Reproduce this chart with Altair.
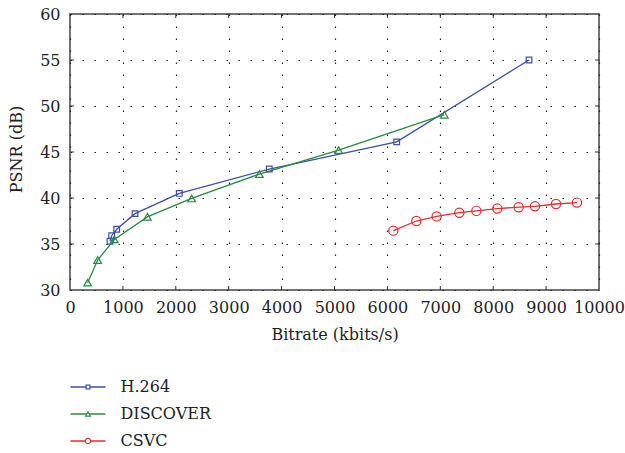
import altair as alt
import pandas as pd

# ---- data ----
series_names = ["H.264", "DISCOVER", "CSVC"]
series_colors = ["#3b50a8", "#2b8a3e", "#ee2b2b"]

h264_x = [756, 788, 883, 1229, 2066, 3767, 6176, 8677]
h264_y = [35.3, 35.9, 36.6, 38.3, 40.5, 43.15, 46.1, 55.0]

discover_x = [334, 523, 838, 1462, 2300, 3580, 5079, 7076]
discover_y = [30.8, 33.25, 35.5, 37.95, 39.95, 42.6, 45.2, 49.05]

csvc_x = [6112, 6547, 6931, 7360, 7681, 8078, 8481, 8790, 9187, 9584]
csvc_y = [36.45, 37.5, 38.0, 38.4, 38.6, 38.85, 39.0, 39.1, 39.35, 39.5]

x_ticks = [0, 1000, 2000, 3000, 4000, 5000, 6000, 7000, 8000, 9000, 10000]
y_ticks = [30, 35, 40, 45, 50, 55, 60]

# ---- tables ----
rows = []
for name, xs, ys in [("H.264", h264_x, h264_y),
                     ("DISCOVER", discover_x, discover_y),
                     ("CSVC", csvc_x, csvc_y)]:
    for i, (xv, yv) in enumerate(zip(xs, ys)):
        rows.append({"series": name, "x": xv, "y": yv, "idx": i})
df = pd.DataFrame(rows)

xt = pd.DataFrame({"x": x_ticks[1:-1]})
yt = pd.DataFrame({"y": y_ticks[1:-1]})
leg = pd.DataFrame({"series": series_names})

W, H = 529, 276
FONT = "DejaVu Serif"
INK = "#222222"

xscale = alt.Scale(domain=[0, 10000], nice=False, zero=False)
yscale = alt.Scale(domain=[30, 60], nice=False, zero=False)
xaxis = alt.Axis(values=x_ticks, title="Bitrate (kbits/s)", format="d",
                 grid=True, ticks=False, domain=False, labelPadding=9,
                 titlePadding=11, labelFlush=False)
yaxis = alt.Axis(values=y_ticks, title="PSNR (dB)", format="d",
                 grid=True, ticks=False, domain=False, labelPadding=10,
                 titleX=-54, titleY=135, titleBaseline="middle")

color = alt.Color("series:N", scale=alt.Scale(domain=series_names, range=series_colors), legend=None)
shape = alt.Shape("series:N", scale=alt.Scale(domain=series_names,
                  range=["square", "triangle-up", "circle"]), legend=None)

X = alt.X("x:Q", scale=xscale, axis=xaxis)
Y = alt.Y("y:Q", scale=yscale, axis=yaxis)

lines = alt.Chart(df).mark_line(strokeWidth=1.3).encode(
    x=X, y=Y, color=color, detail="series:N", order="idx:Q")

points = alt.Chart(df).mark_point(filled=False, strokeWidth=1.2, opacity=1).encode(
    x=X, y=Y, color=color, shape=shape,
    size=alt.Size("series:N", scale=alt.Scale(domain=series_names, range=[32, 85, 45]), legend=None))

tick_style = dict(color="#333333", strokeWidth=1)
bot_ticks = alt.Chart(xt).mark_rule(**tick_style).encode(x=X, y=alt.value(H), y2=alt.value(H - 4))
top_ticks = alt.Chart(xt).mark_rule(**tick_style).encode(x=X, y=alt.value(0), y2=alt.value(4))
left_ticks = alt.Chart(yt).mark_rule(**tick_style).encode(y=Y, x=alt.value(0), x2=alt.value(4))
right_ticks = alt.Chart(yt).mark_rule(**tick_style).encode(y=Y, x=alt.value(W), x2=alt.value(W - 4))

plot = alt.layer(bot_ticks, top_ticks, left_ticks, right_ticks, lines, points)

# ---- legend below the plot ----
LY = alt.Y("series:N", scale=alt.Scale(type="point", domain=series_names,
                                       range=[373, 427], padding=0), axis=None)
leg_lines = alt.Chart(leg).mark_rule(strokeWidth=1.3).encode(
    x=alt.value(0.5), x2=alt.value(35.5), y=LY, color=color)
leg_pts = alt.Chart(leg).mark_point(filled=False, strokeWidth=1.2, opacity=1, fill="white").encode(
    x=alt.value(18), y=LY, color=color, shape=shape,
    size=alt.Size("series:N", scale=alt.Scale(domain=series_names, range=[15, 30, 22]), legend=None))
leg_text = alt.Chart(leg).mark_text(align="left", baseline="middle", font=FONT,
                                    fontSize=16, color=INK).encode(
    x=alt.value(50.5), y=LY, text="series:N")
legend = alt.layer(leg_lines, leg_pts, leg_text)

chart = alt.layer(plot, legend).resolve_scale(y="independent", size="independent").properties(
    width=W, height=H,
    autosize=alt.AutoSizeParams(type="none"),
    padding={"left": 70, "top": 14, "right": 26, "bottom": 163},
    background="white",
).configure_view(
    stroke="#444444", strokeWidth=1.5
).configure_axis(
    labelFont=FONT, labelFontSize=16, labelColor=INK,
    titleFont=FONT, titleFontSize=16, titleColor=INK, titleFontWeight="normal",
    gridColor="#222222", gridDash=[1.5, 10.5], gridWidth=1.2, gridOpacity=1,
)

chart.save("out.html", embed_options={"renderer": "svg", "actions": False})
